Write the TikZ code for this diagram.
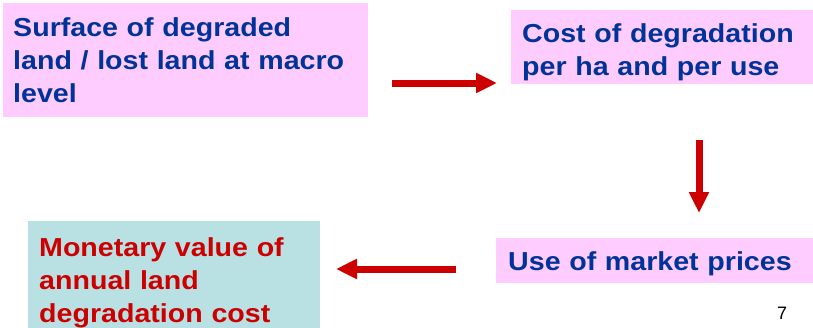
\documentclass[tikz,border=0pt]{standalone}
\usepackage{fontspec}
\setmainfont{Liberation Sans}[FakeStretch=1.1]
\newfontfamily\numfont{Liberation Sans}
\usetikzlibrary{arrows.meta}
\definecolor{boxpink}{HTML}{FFCCFF}
\definecolor{boxteal}{HTML}{B9E0E3}
\definecolor{textblue}{HTML}{003399}
\definecolor{arrowred}{HTML}{CC0000}
\tikzset{
  pinkbox/.style={fill=boxpink, anchor=north west, inner sep=0pt, text=textblue,
    font=\fontsize{26}{33}\selectfont\bfseries, align=left},
  tealbox/.style={fill=boxteal, anchor=north west, inner sep=0pt, text=arrowred,
    font=\fontsize{26}{33}\selectfont\bfseries, align=left},
  redarrow/.style={draw=arrowred, line width=7pt, -{Triangle[length=21pt,width=19pt]}, arrowred},
}
\begin{document}
\begin{tikzpicture}[x=1pt,y=1pt,yscale=-1,xscale=1]
\useasboundingbox (0,0) rectangle (813,327);
\clip (0,0) rectangle (813,327);

\node [pinkbox, minimum width=365pt, minimum height=114pt] (surface) at (3,3) {};
\node [pinkbox, text width=350pt] (surfacetxt) at (13,17) {Surface of degraded\\land / lost land at macro\\level};

\node [pinkbox, minimum width=302pt, minimum height=74pt] (cost) at (511,10) {};
\node [pinkbox, text width=290pt] (costtxt) at (522,23) {Cost of degradation\\per ha and per use};

\node [pinkbox, minimum width=317pt, minimum height=45pt] (market) at (496,238) {};
\node [pinkbox, text width=300pt] (markettxt) at (508,251) {Use of market prices};

\node [tealbox, minimum width=292pt, minimum height=120pt] (monetary) at (28,221) {};
\node [tealbox, text width=280pt] (monetarytxt) at (39,237) {Monetary value of\\annual land\\degradation cost};

\coordinate (a1s) at (392,83);
\coordinate (a1e) at (497,83);
\coordinate (a2s) at (699,140);
\coordinate (a2e) at (699,213);
\coordinate (a3s) at (456,269);
\coordinate (a3e) at (336,269);
\draw [redarrow] (a1s) -- (a1e);
\draw [redarrow] (a2s) -- (a2e);
\draw [redarrow] (a3s) -- (a3e);

\node [font=\numfont\fontsize{18}{20}\selectfont] (pagenum) at (782,313) {7};
\end{tikzpicture}
\end{document}
